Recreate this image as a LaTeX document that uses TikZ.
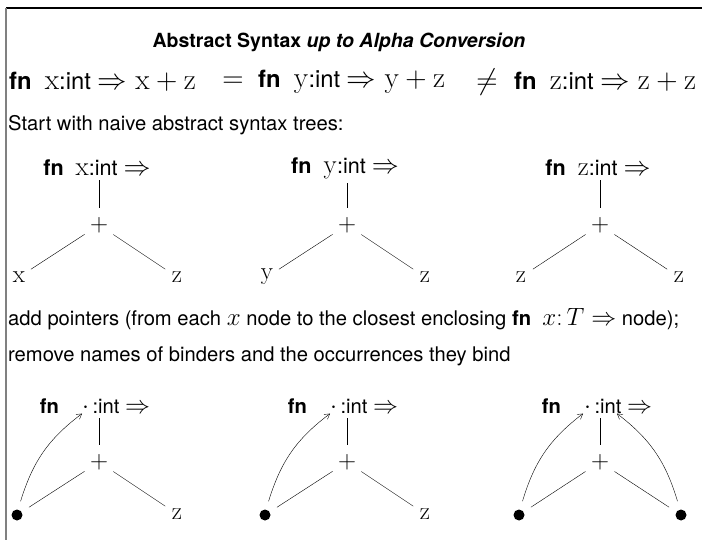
\RequirePackage{fix-cm}
\documentclass[tikz,border=0pt]{standalone}
\usepackage[no-math]{fontspec}
\setmainfont{TeX Gyre Heros}
\usepackage{tikz}
\usetikzlibrary{arrows.meta}
\DeclareMathSizes{20.2}{25}{18}{14}
\DeclareMathSizes{21.6}{27}{19}{15}
\DeclareMathSizes{23.8}{29.5}{21}{16}

\newcommand{\kfn}{\textbf{fn}}
\newcommand{\binder}[1]{\kfn\ \ $\mathrm{#1}$:int $\Rightarrow$}
\newcommand{\nobinder}{\kfn\hspace{1.15em}$\cdot$\,:int $\Rightarrow$}

\begin{document}
\begin{tikzpicture}[x=1pt,y=-1pt,
    every node/.style={font=\fontsize{20.2}{24}\selectfont, inner sep=0pt},
    txt/.style={anchor=west},
    term/.style={font=\fontsize{23.8}{28}\selectfont},
    binderlabel/.style={font=\fontsize{21.6}{26}\selectfont},
    plusop/.style={circle, minimum size=34pt},
    leaf/.style={circle, minimum size=28pt},
    dotleaf/.style={leaf, path picture={\fill (path picture bounding box.center) circle (5.5pt);}},
    ptr/.style={-{Straight Barb[length=5pt,width=6pt]}, thin}]
    \useasboundingbox (0,0) rectangle (702,540);
    % frame
    \draw[line width=1.2pt] (6,8) -- (702,8);
    \draw[gray, line width=1.6pt] (6,8) -- (6,540);

    \node[font=\fontsize{19.5}{23}\selectfont] (title) at (339,42) {\textbf{Abstract Syntax \textit{up to Alpha Conversion}}};

    % the three terms
    \node[txt, term] (e1) at (9,82) {\kfn\ \ $\mathrm{x}$:int $\Rightarrow \mathrm{x}+\mathrm{z}$};
    \node[term] (eq) at (233,82) {$=$};
    \node[txt, term] (e2) at (258,82) {\kfn\ \ $\mathrm{y}$:int $\Rightarrow \mathrm{y}+\mathrm{z}$};
    \node[term] (neq) at (487,82) {$\neq$};
    \node[txt, term] (e3) at (514,82) {\kfn\ \ $\mathrm{z}$:int $\Rightarrow \mathrm{z}+\mathrm{z}$};

    \node[txt] (start) at (8,125) {Start with naive abstract syntax trees:};

    % naive trees
    \node[binderlabel] (f1) at (97,168) {\binder{x}};
    \node[plusop] (p1) at (99,225) {$+$};
    \node[leaf] (l1) at (19,277) {$\mathrm{x}$};
    \node[leaf] (r1) at (177,277) {$\mathrm{z}$};
    \draw[shorten >=4pt] (p1) -- (p1 |- f1.south);
    \draw (p1) -- (l1);
    \draw (p1) -- (r1);

    \node[binderlabel] (f2) at (345,168) {\binder{y}};
    \node[plusop] (p2) at (347,225) {$+$};
    \node[leaf] (l2) at (267,277) {$\mathrm{y}$};
    \node[leaf] (r2) at (425,277) {$\mathrm{z}$};
    \draw[shorten >=4pt] (p2) -- (p2 |- f2.south);
    \draw (p2) -- (l2);
    \draw (p2) -- (r2);

    \node[binderlabel] (f3) at (598,168) {\binder{z}};
    \node[plusop] (p3) at (600,225) {$+$};
    \node[leaf] (l3) at (521,277) {$\mathrm{z}$};
    \node[leaf] (r3) at (679,277) {$\mathrm{z}$};
    \draw[shorten >=4pt] (p3) -- (p3 |- f3.south);
    \draw (p3) -- (l3);
    \draw (p3) -- (r3);

    \node[txt] (add) at (8,319) {add pointers (from each $x$ node to the closest enclosing \kfn\ \ $x\colon T\Rightarrow$ node);};
    \node[txt] (rm) at (8,356) {remove names of binders and the occurrences they bind};

    % trees with pointers
    \node (g1) at (95,406) {\nobinder};
    \node[plusop] (q1) at (99,462) {$+$};
    \node[dotleaf] (m1) at (17,515) {};
    \node[leaf] (n1) at (177,514) {$\mathrm{z}$};
    \draw[shorten >=4pt] (q1) -- (q1 |- g1.south);
    \draw (q1) -- (m1);
    \draw (q1) -- (n1);
    \draw[ptr] (m1) to[bend left=18] (g1.south -| 82,0);

    \node (g2) at (343,406) {\nobinder};
    \node[plusop] (q2) at (347,462) {$+$};
    \node[dotleaf] (m2) at (265,515) {};
    \node[leaf] (n2) at (425,514) {$\mathrm{z}$};
    \draw[shorten >=4pt] (q2) -- (q2 |- g2.south);
    \draw (q2) -- (m2);
    \draw (q2) -- (n2);
    \draw[ptr] (m2) to[bend left=18] (g2.south -| 330,0);

    \node (g3) at (597,406) {\nobinder};
    \node[plusop] (q3) at (600,462) {$+$};
    \node[dotleaf] (m3) at (519,515) {};
    \node[dotleaf] (n3) at (681,515) {};
    \draw[shorten >=4pt] (q3) -- (q3 |- g3.south);
    \draw (q3) -- (m3);
    \draw (q3) -- (n3);
    \draw[ptr] (m3) to[bend left=18] (g3.south -| 583,0);
    \draw[ptr] (n3) to[bend right=18] (g3.south -| 617,0);
\end{tikzpicture}
\end{document}
